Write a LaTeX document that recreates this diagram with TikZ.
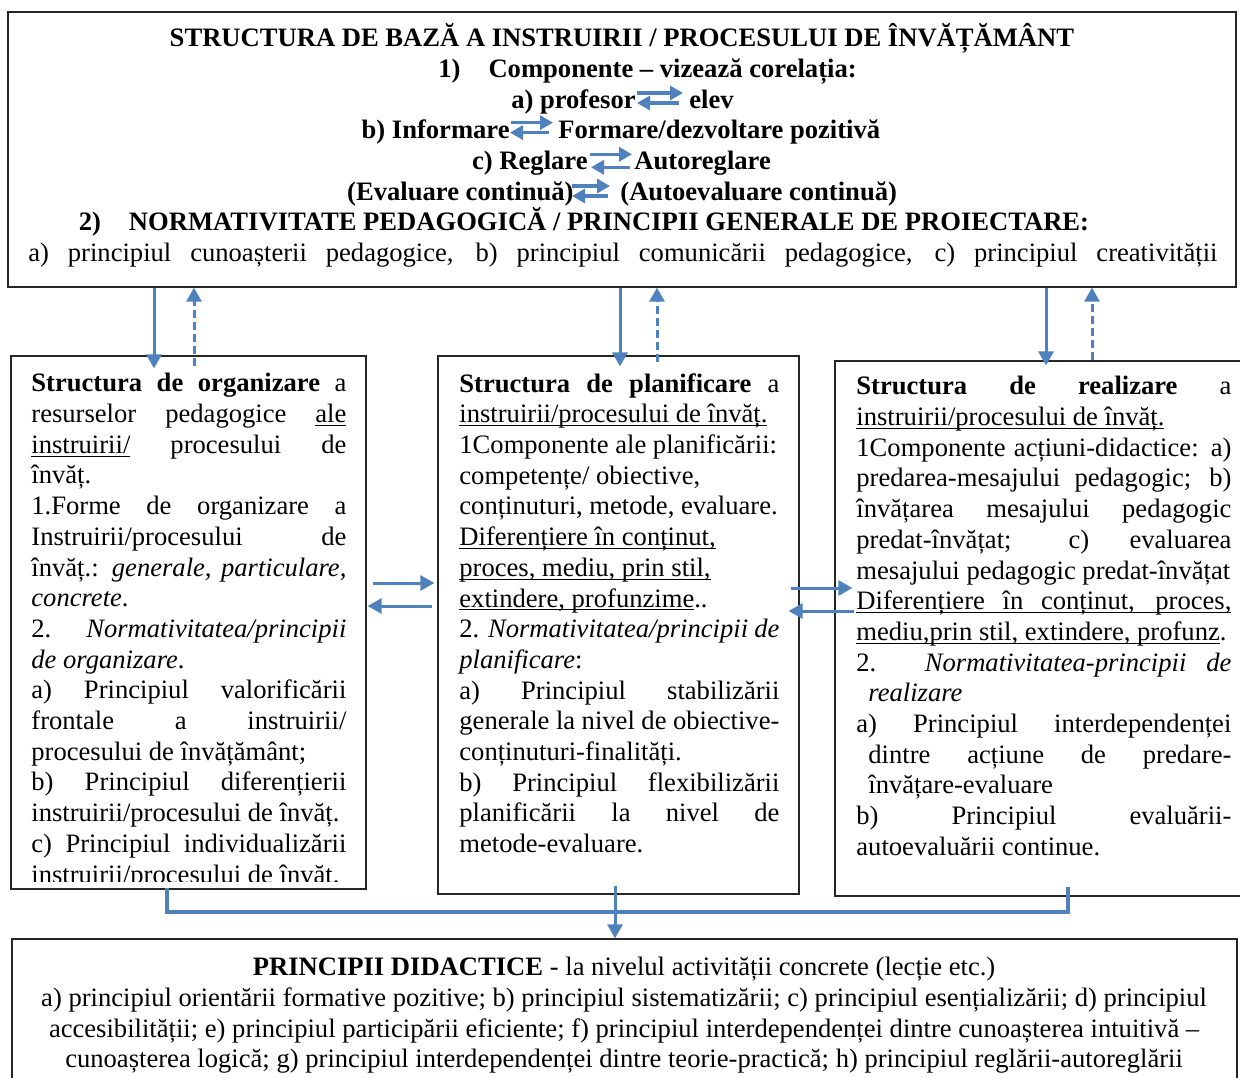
\documentclass[tikz,border=0pt]{standalone}
\usepackage{fontspec}
\setmainfont{Liberation Serif}
\usetikzlibrary{arrows.meta,fit,calc}
\definecolor{wordblue}{RGB}{79,129,189}
\newcommand{\bodyfont}{\fontsize{13.3}{15.35}\selectfont}
\newcommand{\uln}[1]{\underline{\smash{#1}}}
\tolerance=10000
\hbadness=10000
\hyphenpenalty=10000
\exhyphenpenalty=10000
\tikzstyle{box}=[shape=rectangle,
                 draw=black!85,
                 line width=0.6pt,
                 inner sep=0pt]
\tikzstyle{txt}=[inner sep=0pt,
                 font=\bodyfont]
\tikzstyle{htxt}=[inner sep=0pt,
                  font=\bodyfont\bfseries]
\tikzstyle{para}=[txt,
                  align=justify,
                  anchor=north west]
\tikzstyle{arr}=[draw=wordblue,
                 line width=1.5pt,
                 -{Triangle[length=7pt,width=7.5pt]}]
\tikzstyle{darr}=[arr,
                  dash pattern=on 4pt off 2pt]
\tikzstyle{swap}=[draw=wordblue,
                  line width=1.6pt,
                  -{Triangle[length=6.5pt,width=7pt]}]
\tikzstyle{link}=[draw=wordblue,
                  line width=2pt]

\begin{document}
\begin{tikzpicture}[x=0.5pt,y=-0.5pt]
\path[use as bounding box,clip] (0,0) rectangle (1240,1077);

% boxes
\node[box,fit={(8,12) (1236,287)}] (top) {};
\node[box,fit={(11,356) (366,889)}] (org) {};
\node[box,fit={(438,356) (799,894)}] (plan) {};
\node[box,fit={(835,361) (1250,896)}] (real) {};
\node[box,fit={(12,939) (1237,1100)}] (didac) {};

% top box
\node[htxt,anchor=base] (title) at (622,46.5) {STRUCTURA DE BAZĂ A INSTRUIRII / PROCESULUI DE ÎNVĂȚĂMÂNT};
\node[htxt,anchor=base] (comp) at (647.5,77.2) {1)\hspace{14pt}Componente – vizează corelația:};
\node[htxt,anchor=base east] (prof) at (636,108) {a) profesor};
\node[htxt,anchor=base west] (elev) at (689,108) {elev};
\node[htxt,anchor=base east] (info) at (510,138.6) {b) Informare};
\node[htxt,anchor=base west] (form) at (558,138.6) {Formare/dezvoltare pozitivă};
\node[htxt,anchor=base east] (regl) at (588,169.3) {c) Reglare};
\node[htxt,anchor=base west] (autor) at (634,169.3) {Autoreglare};
\node[htxt,anchor=base east] (eval) at (574,200) {(Evaluare continuă)};
\node[htxt,anchor=base west] (autoe) at (620,200) {(Autoevaluare continuă)};
\node[htxt,anchor=base] (norm) at (584,230.7) {2)\hspace{14pt}NORMATIVITATE PEDAGOGICĂ / PRINCIPII GENERALE DE PROIECTARE:};
\node[txt,anchor=base west] (princ) at (28,261.4) {\makebox[594.5pt][s]{a) principiul cunoașterii pedagogice, b) principiul comunicării pedagogice, c) principiul creativității}};

% double arrows in the top box
\draw[swap] ($(prof.base east)+(1,-15)$) -- ($(elev.base west)+(-6,-15)$);
\draw[swap] ($(elev.base west)+(-10,-5)$) -- ($(prof.base east)+(1,-5)$);
\draw[swap] ($(info.base east)+(1,-16)$) -- ($(form.base west)+(-5,-16)$);
\draw[swap] ($(form.base west)+(-9,-6)$) -- ($(info.base east)+(0,-6)$);
\draw[swap] ($(regl.base east)+(2,-15)$) -- ($(autor.base west)+(-2,-15)$);
\draw[swap] ($(autor.base west)+(-4,-2)$) -- ($(regl.base east)+(3,-2)$);
\draw[swap] ($(eval.base east)+(-2,-14)$) -- ($(autoe.base west)+(-10,-14)$);
\draw[swap] ($(autoe.base west)+(-12,-4)$) -- ($(eval.base east)+(-2,-4)$);

% structura de organizare
\begin{scope}
\clip (org.north west) rectangle ($(org.south east)+(0,-8)$);
\node[para,text width=157.5pt] (orgtext) at (31,373) {%
\textbf{Structura de organizare} a\linebreak
resurselor pedagogice \uln{ale}\linebreak
\uln{instruirii/} procesului de\linebreak
învăț.\\
1.Forme de organizare a\linebreak
Instruirii/procesului de\linebreak
învăț.: \textit{generale, particulare,}\linebreak
\textit{concrete}.\\
2. \textit{Normativitatea/principii}\linebreak
\textit{de organizare}.\\
a) Principiul valorificării\linebreak
frontale a instruirii/\linebreak
procesului de învățământ;\\
b) Principiul diferențierii\linebreak
instruirii/procesului de învăț.\\
c) Principiul individualizării\linebreak
instruirii/procesului de învăț.};
\end{scope}

% structura de planificare
\node[para,text width=160pt] (plantext) at (459,373) {%
\textbf{Structura de planificare} a\linebreak
\uln{instruirii/procesului de învăț.}\\
1Componente ale planificării:\\
competențe/ obiective,\\
conținuturi, metode, evaluare.\\
\uln{Diferențiere în conținut,}\\
\uln{proces, mediu, prin stil,}\\
\uln{extindere, profunzime}..\\
2. \textit{Normativitatea/principii de}\linebreak
\textit{planificare}:\\
a) Principiul stabilizării\linebreak
generale la nivel de obiective-\linebreak
conținuturi-finalități.\\
b) Principiul flexibilizării\linebreak
planificării la nivel de\linebreak
metode-evaluare.};

% structura de realizare
\node[para,text width=187.5pt] (realtext) at (856,376) {%
\textbf{Structura de realizare} a\linebreak
\uln{instruirii/procesului de învăț.}\\
1Componente acțiuni-didactice: a)\linebreak
predarea-mesajului pedagogic; b)\linebreak
învățarea mesajului pedagogic\linebreak
predat-învățat; c) evaluarea\linebreak
mesajului pedagogic predat-învățat\\
\uln{\makebox[187.5pt][s]{Diferențiere în conținut, proces,}}\\
\uln{mediu,prin stil, extindere, profunz}.\\
2. \textit{Normativitatea-principii de}\linebreak
\hspace*{6pt}\textit{realizare}\\
a) Principiul interdependenței\linebreak
\hspace*{6pt}dintre acțiune de predare-\linebreak
\hspace*{6pt}învățare-evaluare\\
b) Principiul evaluării-\linebreak
autoevaluării continue.};

% principii didactice
\node[txt,align=center,anchor=north] (didtext) at (624,957) {%
\textbf{PRINCIPII DIDACTICE} - la nivelul activității concrete (lecție etc.)\\
a) principiul orientării formative pozitive; b) principiul sistematizării; c) principiul esențializării; d) principiul\\
accesibilității; e) principiul participării eficiente; f) principiul interdependenței dintre cunoașterea intuitivă –\\
cunoașterea logică; g) principiul interdependenței dintre teorie-practică; h) principiul reglării-autoreglării};

% paths top box - structures
\draw[arr] (top.south -| 154,0) -- ($(org.north -| 154,0)+(0,13)$);
\draw[darr] ($(org.north -| 194,0)+(0,11)$) -- (top.south -| 194,0);
\draw[arr] (top.south -| 620,0) -- ($(plan.north -| 620,0)+(0,11)$);
\draw[darr] ($(plan.north -| 657,0)+(0,7)$) -- (top.south -| 657,0);
\draw[arr] (top.south -| 1046,0) -- ($(real.north -| 1046,0)+(0,5)$);
\draw[darr] (real.north -| 1092,0) -- (top.south -| 1092,0);

% paths between structures
\draw[arr] ($(org.east |- 0,583)+(6,0)$) -- ($(plan.west |- 0,583)+(-3,0)$);
\draw[arr] ($(plan.west |- 0,606)+(-5,0)$) -- ($(org.east |- 0,606)+(1,0)$);
\draw[arr] ($(plan.east |- 0,588)+(-9,0)$) -- ($(real.west |- 0,588)+(18,0)$);
\draw[arr] ($(real.west |- 0,611)+(20,0)$) -- ($(plan.east |- 0,611)+(-11,0)$);

% paths to principii didactice
\draw[link] ($(org.south -| 167,0)+(0,-2)$) -- (167,912) -- (1068,912) -- ($(real.south -| 1068,0)+(0,-10)$);
\draw[arr] ($(plan.south -| 615,0)+(0,-9)$) -- (didac.north -| 615,0);

\end{tikzpicture}
\end{document}
